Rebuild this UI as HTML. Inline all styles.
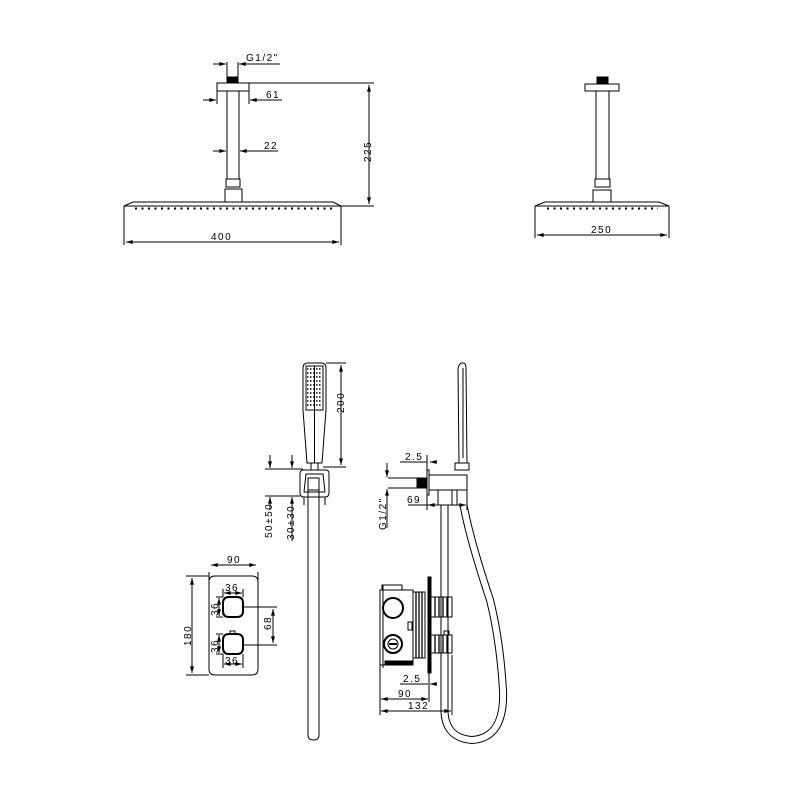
<!DOCTYPE html>
<html><head><meta charset="utf-8"><style>
html,body{margin:0;padding:0;background:#fff;}
svg{display:block;}
text{font-family:"Liberation Sans",sans-serif;font-size:10px;letter-spacing:1.5px;fill:#000;}
</style></head><body>
<svg width="800" height="800" viewBox="0 0 800 800" xmlns="http://www.w3.org/2000/svg">
<defs>
<marker id="a" viewBox="0 0 10 6" refX="10" refY="3" markerWidth="8" markerHeight="4" orient="auto-start-reverse" markerUnits="userSpaceOnUse"><path d="M0,0L10,3L0,6z" fill="#000"/></marker>
</defs>
<g fill="none" stroke="#000" stroke-width="1">
<!-- TOP LEFT SHOWER -->
<line x1="227" y1="62" x2="227" y2="83"/><line x1="238" y1="62" x2="238" y2="83"/>
<rect x="227" y="77" width="11" height="6" fill="#000"/>
<rect x="217" y="83" width="32" height="8"/>
<rect x="227" y="91" width="12" height="88"/>
<rect x="226" y="179" width="14" height="8"/>
<rect x="225" y="189" width="17" height="13"/>
<path d="M133,202 L333,202 L341,206 L124,206 Z"/>
<line x1="135" y1="208.5" x2="332" y2="208.5" stroke-width="2" stroke-dasharray="2,4.5"/>
<line x1="124" y1="206" x2="124" y2="245"/><line x1="341" y1="206" x2="341" y2="245"/>
<line x1="126" y1="242" x2="339" y2="242" marker-start="url(#a)" marker-end="url(#a)"/>
<!-- 225 -->
<line x1="249" y1="83" x2="374" y2="83"/><line x1="341" y1="206" x2="374" y2="206"/>
<line x1="369" y1="85" x2="369" y2="204" marker-start="url(#a)" marker-end="url(#a)"/>
<!-- 61 -->
<line x1="203" y1="100" x2="216" y2="100" marker-end="url(#a)"/>
<line x1="282" y1="100" x2="250" y2="100" marker-end="url(#a)"/>
<line x1="217" y1="91" x2="217" y2="104"/><line x1="249" y1="91" x2="249" y2="104"/>
<!-- 22 -->
<line x1="213" y1="151" x2="226" y2="151" marker-end="url(#a)"/>
<line x1="278" y1="151" x2="240" y2="151" marker-end="url(#a)"/>
<!-- G1/2 -->
<line x1="213" y1="64" x2="226" y2="64" marker-end="url(#a)"/>
<line x1="280" y1="64" x2="239" y2="64" marker-end="url(#a)"/>
<!-- TOP RIGHT SHOWER -->
<rect x="597" y="77" width="11" height="7" fill="#000"/>
<rect x="585" y="84" width="34" height="7"/>
<rect x="596" y="91" width="13" height="88"/>
<rect x="595" y="179" width="15" height="8"/>
<rect x="593" y="190" width="18" height="12"/>
<path d="M545,202 L659,202 L669,206 L535,206 Z"/>
<line x1="547" y1="208.5" x2="658" y2="208.5" stroke-width="2" stroke-dasharray="2,4.5"/>
<line x1="535" y1="206" x2="535" y2="238"/><line x1="669" y1="206" x2="669" y2="238"/>
<line x1="537" y1="235" x2="667" y2="235" marker-start="url(#a)" marker-end="url(#a)"/>
<!-- HAND SHOWER FRONT -->
<path d="M303,368 Q303,363 308,363 L321,363 Q326,363 326,368 L326,410 L322,463 L307,463 L303,410 Z"/>
<rect x="306" y="366" width="17" height="44"/>
<g stroke-width="1.5" stroke-dasharray="1.5,1.5">
<line x1="307" y1="369" x2="322" y2="369"/><line x1="307" y1="373" x2="322" y2="373"/><line x1="307" y1="377" x2="322" y2="377"/><line x1="307" y1="381" x2="322" y2="381"/><line x1="307" y1="385" x2="322" y2="385"/><line x1="307" y1="389" x2="322" y2="389"/><line x1="307" y1="393" x2="322" y2="393"/><line x1="307" y1="397" x2="322" y2="397"/><line x1="307" y1="401" x2="322" y2="401"/><line x1="307" y1="405" x2="322" y2="405"/>
</g>
<line x1="314.5" y1="366" x2="314.5" y2="463"/>
<rect x="311" y="463" width="7" height="7"/>
<path d="M303,470 L326,470 Q329,470 329,474 L329,493 Q329,497 325,497 L304,497 Q300,497 300,493 L300,474 Q300,470 303,470 Z"/>
<path d="M306,474 L323,474 L325,492 L304,492 Z"/>
<rect x="308" y="478" width="11" height="12"/>
<path d="M308,490 L308,735 Q308,740 313.5,740 Q319,740 319,735 L319,490"/>
<line x1="304" y1="497" x2="304" y2="505"/><line x1="325" y1="497" x2="325" y2="505"/>
<!-- 200 -->
<line x1="326" y1="363" x2="346" y2="363"/><line x1="323" y1="467" x2="346" y2="467"/>
<line x1="341" y1="365" x2="341" y2="465" marker-start="url(#a)" marker-end="url(#a)"/>
<!-- 50±50 / 30±30 -->
<line x1="265" y1="469" x2="303" y2="469"/><line x1="265" y1="496" x2="300" y2="496"/>
<line x1="270" y1="455" x2="270" y2="468" marker-end="url(#a)"/>
<line x1="270" y1="510" x2="270" y2="497" marker-end="url(#a)"/>
<line x1="292" y1="455" x2="292" y2="468" marker-end="url(#a)"/>
<line x1="292" y1="541" x2="292" y2="497" marker-end="url(#a)"/>
<!-- CONTROL PLATE -->
<path d="M215,576 L252,576 Q258,576 258,582 L258,669 Q258,675 252,675 L215,675 Q209,675 209,669 L209,582 Q209,576 215,576 Z"/>
<line x1="209" y1="572" x2="209" y2="580"/><line x1="258" y1="572" x2="258" y2="580"/>
<line x1="211" y1="565" x2="256" y2="565" marker-start="url(#a)" marker-end="url(#a)"/>
<line x1="186" y1="576" x2="209" y2="576"/><line x1="186" y1="675" x2="209" y2="675"/>
<line x1="192" y1="578" x2="192" y2="673" marker-start="url(#a)" marker-end="url(#a)"/>
<g stroke-width="2"><path d="M229,597 L237,597 Q243,597 243,603 L243,611 Q243,617 237,617 L229,617 Q223,617 223,611 L223,603 Q223,597 229,597 Z"/>
<path d="M229,634 L237,634 Q243,634 243,640 L243,648 Q243,654 237,654 L229,654 Q223,654 223,648 L223,640 Q223,634 229,634 Z"/></g>
<rect x="230" y="631" width="5" height="3"/>
<line x1="223" y1="589" x2="223" y2="597"/><line x1="243" y1="589" x2="243" y2="597"/>
<line x1="224" y1="593" x2="242" y2="593" marker-start="url(#a)" marker-end="url(#a)"/>
<line x1="223" y1="654" x2="223" y2="668"/><line x1="243" y1="654" x2="243" y2="668"/>
<line x1="224" y1="664" x2="242" y2="664" marker-start="url(#a)" marker-end="url(#a)"/>
<line x1="216" y1="597" x2="223" y2="597"/><line x1="216" y1="617" x2="223" y2="617"/>
<line x1="219" y1="598" x2="219" y2="616" marker-start="url(#a)" marker-end="url(#a)"/>
<line x1="216" y1="634" x2="223" y2="634"/><line x1="216" y1="654" x2="223" y2="654"/>
<line x1="219" y1="635" x2="219" y2="653" marker-start="url(#a)" marker-end="url(#a)"/>
<line x1="243" y1="607" x2="277" y2="607"/><line x1="243" y1="645" x2="277" y2="645"/>
<line x1="273" y1="609" x2="273" y2="643" marker-start="url(#a)" marker-end="url(#a)"/>
<!-- SIDE VIEW -->
<path d="M459,463 L458,368 Q460,362 463,363 Q466,363 466,368 L467,463"/>
<line x1="463" y1="368" x2="463" y2="458"/>
<rect x="455" y="463" width="14" height="7"/>
<rect x="429" y="475" width="38" height="15"/>
<rect x="417" y="478" width="10" height="10" fill="#000"/>
<line x1="388" y1="478" x2="417" y2="478"/><line x1="388" y1="488" x2="417" y2="488"/>
<rect x="427" y="470" width="2" height="25"/>
<rect x="438" y="490" width="14" height="15"/><rect x="457" y="490" width="10" height="15"/>
<!-- hose -->
<path d="M444.5,505 L444.5,712 Q446,738 472,740 Q505,738 503,690 Q500,640 490,600 Q470,540 463.5,505" stroke-width="8"/>
<path d="M444.5,505 L444.5,712 Q446,738 472,740 Q505,738 503,690 Q500,640 490,600 Q470,540 463.5,505" stroke="#fff" stroke-width="6"/>
<!-- valve box -->
<rect x="380" y="590" width="33" height="75"/>
<rect x="382" y="585" width="20" height="5"/>
<line x1="383" y1="585" x2="383" y2="668"/>
<rect x="385" y="661" width="28" height="3" fill="#000"/>
<circle cx="393" cy="608" r="10" stroke-width="2"/>
<circle cx="393" cy="644" r="9" stroke-width="2"/><circle cx="393" cy="644" r="5"/>
<line x1="389" y1="644" x2="397" y2="644" stroke-width="2"/>
<rect x="408" y="622" width="4" height="8"/>
<rect x="413" y="592" width="12" height="66"/>
<g stroke-width="1.3"><line x1="416" y1="592" x2="416" y2="658"/><line x1="419" y1="592" x2="419" y2="658"/><line x1="422" y1="592" x2="422" y2="658"/></g>
<rect x="428" y="577" width="3" height="96" fill="#000"/>
<rect x="431" y="597" width="21" height="20"/>
<rect x="431" y="635" width="21" height="18"/>
<g stroke-width="1.3"><line x1="435" y1="597" x2="435" y2="617"/><line x1="439" y1="597" x2="439" y2="617"/><line x1="443" y1="597" x2="443" y2="617"/><line x1="447" y1="597" x2="447" y2="617"/>
<line x1="435" y1="635" x2="435" y2="653"/><line x1="439" y1="635" x2="439" y2="653"/><line x1="443" y1="635" x2="443" y2="653"/><line x1="447" y1="635" x2="447" y2="653"/></g>
<rect x="444" y="631" width="5" height="4"/>
<!-- side dims -->
<line x1="400" y1="462" x2="427" y2="462"/><line x1="437" y1="462" x2="430" y2="462" marker-end="url(#a)"/>
<line x1="427" y1="455" x2="427" y2="510"/><line x1="467" y1="490" x2="467" y2="510"/>
<line x1="408" y1="505" x2="466" y2="505" marker-end="url(#a)"/>
<line x1="430" y1="505" x2="428" y2="505" marker-end="url(#a)"/>
<line x1="387" y1="463" x2="387" y2="477" marker-end="url(#a)"/>
<line x1="387" y1="528" x2="387" y2="489" marker-end="url(#a)"/>
<line x1="380" y1="665" x2="380" y2="715"/><line x1="452" y1="655" x2="452" y2="715"/><line x1="429" y1="673" x2="429" y2="702"/>
<line x1="400" y1="684" x2="428" y2="684"/><line x1="437" y1="684" x2="430" y2="684" marker-end="url(#a)"/>
<line x1="381" y1="699" x2="428" y2="699" marker-start="url(#a)" marker-end="url(#a)"/>
<line x1="381" y1="711" x2="451" y2="711" marker-start="url(#a)" marker-end="url(#a)"/>
<line x1="244" y1="64" x2="280" y2="64"/>
</g>
<!-- TEXT -->
<text x="246" y="61">G1/2"</text>
<text x="266" y="98">61</text>
<text x="264" y="149">22</text>
<text x="211" y="240">400</text>
<text transform="translate(371,162) rotate(-90)">225</text>
<text x="591" y="233">250</text>
<text transform="translate(344,413) rotate(-90)">200</text>
<text transform="translate(272,538) rotate(-90)">50±50</text>
<text transform="translate(294,540) rotate(-90)">30±30</text>
<text x="227" y="563">90</text>
<text transform="translate(191,646) rotate(-90)">180</text>
<text x="225" y="591">36</text>
<text x="225" y="664">36</text>
<text transform="translate(218,616) rotate(-90)">36</text>
<text transform="translate(218,653) rotate(-90)">36</text>
<text transform="translate(271,630) rotate(-90)">68</text>
<text x="405" y="460">2.5</text>
<text x="407" y="503">69</text>
<text transform="translate(386,530) rotate(-90)">G1/2"</text>
<text x="403" y="682">2.5</text>
<text x="398" y="697">90</text>
<text x="408" y="709">132</text>
</svg>
</body></html>
